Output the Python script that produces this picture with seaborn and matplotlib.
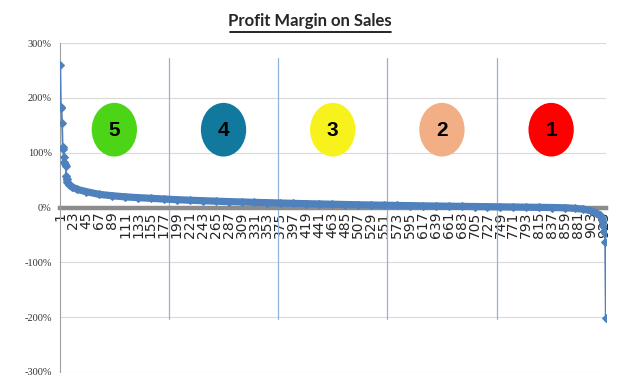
import matplotlib
matplotlib.use("Agg")
import matplotlib.pyplot as plt
from matplotlib.patches import Ellipse
from matplotlib.lines import Line2D
import matplotlib.ticker as mticker
import seaborn as sns
import pandas as pd

# readings (category number -> margin %)
categories = [1, 2, 3, 4, 5, 6, 7, 8, 9, 10, 11, 12, 13, 15, 20, 30, 45,
              67, 89, 111, 133, 155, 177, 199, 221, 243, 265, 287, 309, 331,
              353, 375, 397, 419, 441, 463, 485, 507, 529, 551, 573, 595,
              617, 639, 661, 683, 705, 727, 749, 771, 793, 815, 837, 859,
              875, 890, 903, 912, 918, 921, 923, 924, 925, 926, 927, 928]
margins = [260, 183, 181, 155, 110, 107, 93, 83, 79, 76, 57, 52, 47, 43, 38,
           33, 29, 24, 21.5, 19.5, 18, 16.8, 15.5, 14.3, 13.3, 12.4, 11.6,
           10.8, 10.1, 9.4, 8.8, 8.2, 7.6, 7.0, 6.5, 6.0, 5.5, 5.0, 4.6, 4.2,
           3.8, 3.4, 3.0, 2.7, 2.4, 2.1, 1.8, 1.5, 1.2, 0.9, 0.6, 0.3, 0.0,
           -0.5, -1.5, -3, -6, -10, -14, -20, -27, -33, -42, -47, -63, -201]
n_items = 928
quintile_labels = ["5", "4", "3", "2", "1"]
quintile_colors = ["#4CD416", "#11799E", "#F8F21C", "#F2AE84", "#FF0000"]
yticks = [-300, -200, -100, 0, 100, 200, 300]
xticks = list(range(1, n_items + 1, 22))

df = pd.DataFrame({"item": categories, "margin": margins})
blue = "#4F81BD"

sns.set_style("white")
fig = plt.figure(figsize=(6.24, 3.85), dpi=100)
ax = fig.add_axes([0.0962, 0.034, 0.875, 0.854])

# horizontal grid
for v in yticks:
    ax.axhline(v, color="#D9D9D9", lw=0.8, zorder=0)

# quintile dividers
for k in range(1, 5):
    ax.plot([n_items * k / 5, n_items * k / 5], [273, -204],
            color="#95B3D7", lw=0.9, zorder=1)

# dense band of markers -> thick line over the body of the curve
body = df[(df["item"] >= 12) & (df["item"] <= 923)]
sns.lineplot(data=body, x="item", y="margin", ax=ax, color=blue, lw=5.2,
             solid_capstyle="round", zorder=4)
sns.lineplot(data=df, x="item", y="margin", ax=ax, color=blue, lw=1.3,
             marker="D", markersize=4.5, markeredgecolor=blue, zorder=5)

# quintile bubbles
for i, (lab, col) in enumerate(zip(quintile_labels, quintile_colors)):
    cx = n_items * (i + 0.5) / 5
    ax.add_patch(Ellipse((cx, 142), 77, 98, facecolor=col, edgecolor="none",
                         zorder=3))
    ax.text(cx, 140, lab, ha="center", va="center", fontsize=15,
            fontweight="bold", color="black", family="Liberation Sans",
            zorder=6)

ax.set_xlim(0.5, n_items + 0.5)
ax.set_ylim(-300, 300)
ax.set_yticks(yticks)
ax.yaxis.set_major_formatter(mticker.FuncFormatter(lambda v, p: f"{v:.0f}%"))
ax.set_xticks(xticks)
ax.set_xticklabels([str(t) for t in xticks])
ax.tick_params(axis="y", length=4, width=0.8, color="#A0A0A0", pad=2)
ax.tick_params(axis="x", length=0, pad=3, labelrotation=90)
for t in ax.get_xticklabels():
    t.set_family("Liberation Serif")
    t.set_fontsize(7.5)
    t.set_color("#333333")
for t in ax.get_yticklabels():
    t.set_family("Liberation Serif")
    t.set_fontsize(7.5)
    t.set_color("#333333")

for s in ["top", "right"]:
    ax.spines[s].set_visible(False)
ax.spines["left"].set_color("#A0A0A0")
ax.spines["left"].set_linewidth(0.8)
ax.spines["bottom"].set_position(("data", 0))
ax.spines["bottom"].set_color("#8C8C8C")
ax.spines["bottom"].set_linewidth(3.2)
ax.spines["bottom"].set_zorder(2)
ax.set_xlabel("")
ax.set_ylabel("")

# underlined title
fig.text(0.497, 0.945, "Profit Margin on Sales", ha="center", va="center",
         fontsize=12, fontweight="bold", family="Lato")
fig.add_artist(Line2D([0.368, 0.627], [0.918, 0.918], color="black", lw=1.2))

fig.savefig("out.png", dpi=100)
